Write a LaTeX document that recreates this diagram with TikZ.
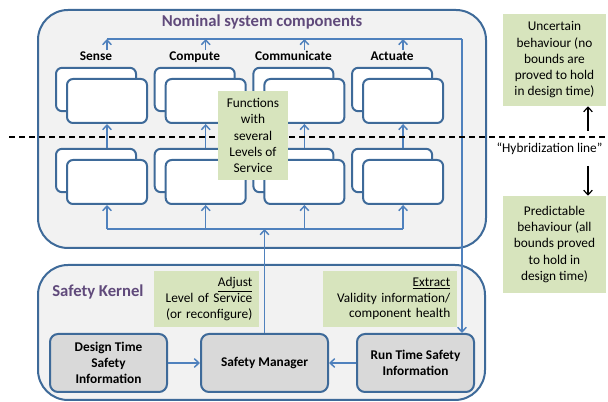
\documentclass[tikz,border=0pt]{standalone}
\usepackage{fontspec}
\setmainfont{Carlito}
\usetikzlibrary{arrows.meta}
\definecolor{boxline}{HTML}{3E6A99}
\definecolor{connblue}{HTML}{4F81BD}
\definecolor{bigfill}{HTML}{F2F2F2}
\definecolor{notegreen}{HTML}{D7E4BD}
\definecolor{infogray}{HTML}{D9D9D9}
\definecolor{titlepurple}{HTML}{604A7B}
\begin{document}
\begin{tikzpicture}[x=0.75pt,y=-0.75pt,
  big/.style={draw=boxline, line width=1.5pt, fill=bigfill, rounded corners=22.5pt, inner sep=0pt},
  comp/.style={draw=boxline, line width=1.5pt, fill=white, rounded corners=4.5pt, minimum width=60pt, minimum height=32.5pt, inner sep=0pt},
  lbl/.style={font=\bfseries\fontsize{10}{12}\selectfont, anchor=base, inner sep=1pt, text height=7pt, text depth=2pt},
  ttl/.style={font=\bfseries\fontsize{12.5}{14}\selectfont, text=titlepurple, inner sep=0pt},
  note/.style={fill=notegreen, align=center, font=\fontsize{10}{12.2}\selectfont, inner sep=0pt},
  rnote/.style={fill=notegreen, align=right, font=\fontsize{10}{11.8}\selectfont, inner sep=5pt, minimum height=42pt},
  info/.style={draw=boxline, line width=1.5pt, fill=infogray, rounded corners=6pt, align=center, font=\bfseries\fontsize{10}{12.2}\selectfont, inner sep=0pt, minimum height=43.5pt},
  conn/.style={draw=connblue, line width=1.1pt, -{Straight Barb[length=3.5pt,width=6.5pt]}},
  connline/.style={draw=connblue, line width=1.1pt},
  blk/.style={draw=black, line width=0.9pt, -{Straight Barb[length=3.5pt,width=6.5pt]}},
  hybline/.style={draw=black, line width=1pt, dash pattern=on 4.5pt off 3pt}
]
\useasboundingbox (0,0) rectangle (608,402);

% big containers
\node[big, minimum width=336pt, minimum height=178.5pt] (nom) at (262,129) {};
\node[big, minimum width=335.25pt, minimum height=101.25pt] (sk) at (261.5,332.5) {};
\node[ttl] (nomtitle) at (262,22) {Nominal system components};
\node[ttl, anchor=west] (sktitle) at (52,292) {Safety Kernel};

% bus coordinates
\coordinate (topbus) at (0,39);
\coordinate (botbus) at (0,229);
\coordinate (busR) at (462,39);

% components
\foreach \i/\n/\t in {0/sense/Sense,1/compute/Compute,2/comm/Communicate,3/act/Actuate}{
  \pgfmathsetmacro\xf{107+98.7*\i}
  \pgfmathsetmacro\xb{\xf-11}
  \node[comp] (\n-ub) at (\xb,89.5) {};
  \node[comp, minimum height=33pt] (\n-uf) at (\xf,101) {};
  \node[comp] (\n-lb) at (\xb,170.5) {};
  \node[comp, minimum height=33pt] (\n-lf) at (\xf,182) {};
  \node[lbl] (\n-l) at (\xb,61) {\t};
}

% safety kernel boxes
\node[info, minimum width=87.75pt] (dt) at (108.5,363) {Design Time\\Safety\\Information};
\node[info, minimum width=95.25pt] (sm) at (264.5,363) {Safety Manager};
\node[info, minimum width=87.75pt] (rt) at (415.5,363) {Run Time Safety\\Information};

% connectors
\draw[connline] (sense-uf.center |- topbus) -- (busR);
\draw[conn] (busR) -- (busR |- rt.north);
\draw[connline] (sense-lf.center |- botbus) -- (act-lf.center |- botbus);
\foreach \n in {sense,compute,comm,act}{
  \draw[conn] (\n-uf.center |- \n-l.north) -- (\n-uf.center |- topbus);
  \draw[conn] (\n-uf.center |- \n-lb.north) -- (\n-uf.south);
  \draw[conn] (\n-lf.center |- botbus) -- (\n-lf.south);
}
\draw[conn] (sm.north) -- (sm.north |- botbus);
\draw[conn] (dt) -- (sm);
\draw[conn] (rt) -- (sm);

% safety kernel notes
\node[rnote, text width=68.75pt] (adjust) at (206.5,299) {\underline{Adjust}\\Level of Service\\(or reconfigure)};
\node[rnote, text width=90.5pt] (extract) at (390,299) {\underline{Extract}\\Validity information/\\component health};

% hybridization line
\coordinate (dl) at (9,137);
\coordinate (dr) at (608,137);
\draw[hybline] (dl) -- (dr);

\node[note, minimum width=52.5pt, minimum height=66.75pt] (func) at (253,135.5) {Functions\\with\\several\\Levels of\\Service};

% right side
\node[note, minimum width=77.25pt, minimum height=69pt] (unc) at (554.5,60) {Uncertain\\behaviour (no\\bounds are\\proved to hold\\in design time)};
\node[note, minimum width=77.25pt, minimum height=72.75pt] (pred) at (554.5,244.5) {Predictable\\behaviour (all\\bounds proved\\to hold in\\design time)};
\node[font=\fontsize{10}{12}\selectfont, inner sep=0pt] (hyb) at (549.5,149) {“Hybridization line”};
\coordinate (upA) at (588,131);
\coordinate (dnA) at (588,166);
\draw[blk] (upA) -- (upA |- unc.south);
\draw[blk] (dnA) -- (dnA |- pred.north);
\end{tikzpicture}
\end{document}
